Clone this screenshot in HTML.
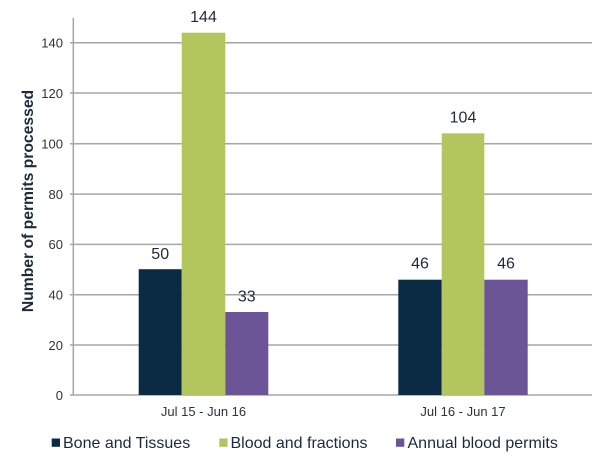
<!DOCTYPE html>
<html><head><meta charset="utf-8"><style>
html,body{margin:0;padding:0;background:#fff;}
svg{display:block;}
text{font-family:"Liberation Sans",Arial,sans-serif;}
</style></head><body>
<svg width="600" height="456" viewBox="0 0 600 456" xmlns="http://www.w3.org/2000/svg">
<rect width="600" height="456" fill="#fff"/>
<g stroke="#a6a6a6" stroke-width="1.5">
<line x1="70" y1="42.7" x2="592" y2="42.7"/>
<line x1="70" y1="93" x2="592" y2="93"/>
<line x1="70" y1="143.8" x2="592" y2="143.8"/>
<line x1="70" y1="194.1" x2="592" y2="194.1"/>
<line x1="70" y1="244.4" x2="592" y2="244.4"/>
<line x1="70" y1="294.7" x2="592" y2="294.7"/>
<line x1="70" y1="345" x2="592" y2="345"/>
<line x1="70" y1="395" x2="592" y2="395"/>
<line x1="73.3" y1="18" x2="73.3" y2="395"/>
</g>
<g font-size="13" fill="#333" text-anchor="end">
<text x="63" y="47.5">140</text>
<text x="63" y="97.8">120</text>
<text x="63" y="148.6">100</text>
<text x="63" y="198.9">80</text>
<text x="63" y="249.2">60</text>
<text x="63" y="299.5">40</text>
<text x="63" y="349.8">20</text>
<text x="63" y="399.8">0</text>
</g>
<text transform="translate(33,201) rotate(-90)" text-anchor="middle" font-size="15.7" font-weight="bold" fill="#1b2a3c">Number of permits processed</text>
<rect x="138.7" y="269.2" width="43" height="125.8" fill="#0b2a44"/>
<rect x="181.7" y="32.7" width="43.6" height="362.3" fill="#b3c65d"/>
<rect x="225.3" y="312" width="43" height="83" fill="#6c5596"/>
<rect x="398.3" y="279.7" width="43.4" height="115.3" fill="#0b2a44"/>
<rect x="441.7" y="133.3" width="42.6" height="261.7" fill="#b3c65d"/>
<rect x="484.3" y="279.7" width="43.4" height="115.3" fill="#6c5596"/>
<g font-size="16" fill="#1f2a38" text-anchor="middle">
<text x="160.2" y="259">50</text>
<text x="203.5" y="22">144</text>
<text x="246.8" y="301.5">33</text>
<text x="420" y="268.7">46</text>
<text x="463" y="122.5">104</text>
<text x="506" y="268.7">46</text>
</g>
<g font-size="13" fill="#2a3340" text-anchor="middle">
<text x="203.5" y="416">Jul 15 - Jun 16</text>
<text x="463" y="416">Jul 16 - Jun 17</text>
</g>
<rect x="51.7" y="438.5" width="8.3" height="8.3" fill="#0b2a44"/>
<rect x="219.3" y="438.5" width="8.3" height="8.3" fill="#b3c65d"/>
<rect x="396" y="438.5" width="8.3" height="8.3" fill="#6c5596"/>
<g font-size="16" fill="#1b2a3c">
<text x="63" y="448">Bone and Tissues</text>
<text x="230.5" y="448">Blood and fractions</text>
<text x="407.5" y="448">Annual blood permits</text>
</g>
</svg>
</body></html>
